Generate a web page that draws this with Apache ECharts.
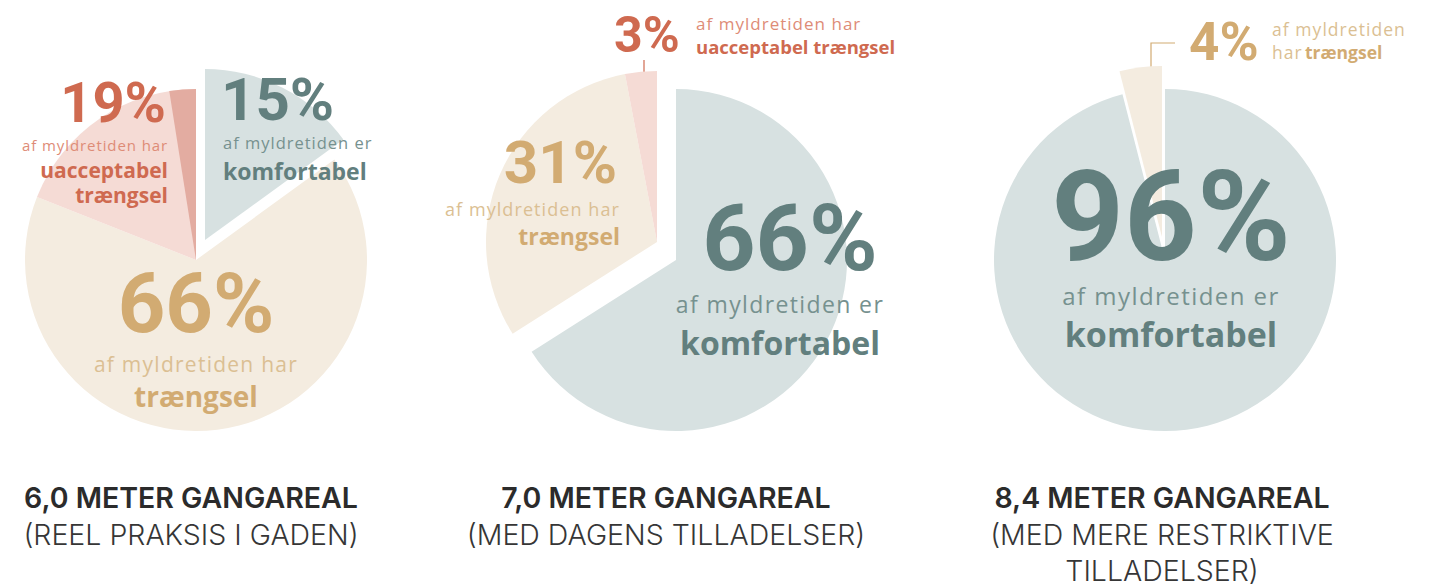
<!DOCTYPE html>
<html>
<head>
<meta charset="utf-8">
<script src="https://cdn.jsdelivr.net/npm/echarts@6/dist/echarts.min.js"></script>
<style>
  html, body { margin: 0; padding: 0; background: #fff; }
  #grf { width: 1436px; height: 588px; }
  /* lette tekster er spaceret ud i forlaegget */
  #grf text[fill="#76918f"], #grf text[fill="#dbbf93"], #grf text[fill="#de8c77"] { letter-spacing: 0.06em; }
</style>
</head>
<body>
<div id="grf"></div>
<script>
// Data
var titler      = ['6,0 METER GANGAREAL', '7,0 METER GANGAREAL', '8,4 METER GANGAREAL'];
var undertitler = [['(REEL PRAKSIS I GADEN)'], ['(MED DAGENS TILLADELSER)'], ['(MED MERE RESTRIKTIVE', 'TILLADELSER)']];
var kategorier  = ['komfortabel', 'trængsel', 'uacceptabel trængsel'];
var komfortabel = [15, 66, 96];
var traengsel   = [66, 31, 4];
var uacceptabel = [19, 3, 0];
var moerkAndel  = [2.5, 0, 0];   // moerkere stribe sidst i den roede skive (graf 1)

// Farver
var farver   = ['#d7e1e1', '#f4ece0', '#f5dbd5'];
var moerkRod = '#e3aca1';
var teal = '#627f7e', tealLys = '#76918f';
var tan  = '#d2ab72', tanLys  = '#dbbf93';
var rod  = '#cf6a50', rodLys  = '#de8c77';
var tal  = 'Roboto', skrift = '"Open Sans"', titelSkrift = 'Inter';

// Placering
var centre   = [[196, 260], [657, 242], [1165, 260]];
var udCentre = [[205, 240], [676, 260], [1162, 237]];
var udSkive  = [0, 0, 1];
var radius   = 171;

var grafico = echarts.init(document.getElementById('grf'), null, {renderer: 'svg'});

function lavSerie(i, ud) {
	var vaerdier = [komfortabel[i], traengsel[i], uacceptabel[i]];
	var data = [];
	for (var j = 0; j < vaerdier.length; j++) {
		var synlig = (j === udSkive[i]) === ud;
		data.push({
			name: kategorier[j],
			value: vaerdier[j],
			itemStyle: { color: synlig ? farver[j] : 'transparent' }
		});
	}
	return {
		type: 'pie',
		silent: true,
		animation: false,
		center: ud ? udCentre[i] : centre[i],
		radius: radius,
		startAngle: 90,
		clockwise: true,
		avoidLabelOverlap: false,
		itemStyle: { borderWidth: 0 },
		label: { show: false },
		labelLine: { show: false },
		data: data
	};
}

function lavStribe(i) {
	var total = komfortabel[i] + traengsel[i] + uacceptabel[i];
	return {
		type: 'pie',
		silent: true,
		animation: false,
		center: centre[i],
		radius: radius,
		startAngle: 90,
		itemStyle: { borderWidth: 0 },
		label: { show: false },
		labelLine: { show: false },
		data: [
			{ value: total - moerkAndel[i], itemStyle: { color: 'transparent' } },
			{ value: moerkAndel[i], itemStyle: { color: moerkRod } }
		]
	};
}

var serier = [];
for (var i = 0; i < 3; i++) {
	serier.push(lavSerie(i, false));
	serier.push(lavSerie(i, true));
	if (moerkAndel[i] > 0) serier.push(lavStribe(i));
}

function txt(t, x, y, size, vaegt, fill, align, familie) {
	return {
		type: 'text', x: x, y: y, silent: true, z: 10,
		style: {
			text: t, fontSize: size, fontWeight: vaegt, fontFamily: familie,
			fill: fill, textAlign: align, textVerticalAlign: 'middle'
		}
	};
}

var grafik = [
	// graf 1
	txt(komfortabel[0] + '%', 221, 99, 60, 'bold', teal, 'left', tal),
	txt('af myldretiden er', 223, 142, 16.5, 'normal', tealLys, 'left', skrift),
	txt('komfortabel', 223, 171, 23, 'bold', teal, 'left', skrift),
	txt(uacceptabel[0] + '%', 166, 103, 56, 'bold', rod, 'right', tal),
	txt('af myldretiden har', 168, 145, 15, 'normal', rodLys, 'right', skrift),
	txt('uacceptabel', 168, 170, 21, 'bold', rod, 'right', skrift),
	txt('trængsel', 168, 195, 21, 'bold', rod, 'right', skrift),
	txt(traengsel[0] + '%', 196, 303, 83, 'bold', tan, 'center', tal),
	txt('af myldretiden har', 196, 364, 21, 'normal', tanLys, 'center', skrift),
	txt('trængsel', 196, 396, 28, 'bold', tan, 'center', skrift),

	// graf 2
	txt(uacceptabel[1] + '%', 614, 35, 50, 'bold', rod, 'left', tal),
	txt('af myldretiden har', 696, 23, 17, 'normal', rodLys, 'left', skrift),
	txt('uacceptabel trængsel', 696, 46, 18.5, 'bold', rod, 'left', skrift),
	{ type: 'polyline', silent: true, shape: { points: [[644, 60], [644, 87]] }, style: { stroke: rod, lineWidth: 1.2, fill: null } },
	{ type: 'circle', silent: true, shape: { cx: 644, cy: 87, r: 3.5 }, style: { fill: rod } },
	txt(traengsel[1] + '%', 617, 162, 60, 'bold', tan, 'right', tal),
	txt('af myldretiden har', 620, 209, 18, 'normal', tanLys, 'right', skrift),
	txt('trængsel', 620, 236, 23, 'bold', tan, 'right', skrift),
	txt(komfortabel[1] + '%', 790, 238, 93, 'bold', teal, 'center', tal),
	txt('af myldretiden er', 780, 304, 23, 'normal', tealLys, 'center', skrift),
	txt('komfortabel', 780, 342, 32, 'bold', teal, 'center', skrift),

	// graf 3
	txt(komfortabel[2] + '%', 1171, 216, 127, 'bold', teal, 'center', tal),
	txt('af myldretiden er', 1171, 295, 24, 'normal', tealLys, 'center', skrift),
	txt('komfortabel', 1171, 334, 34, 'bold', teal, 'center', skrift),
	txt(traengsel[2] + '%', 1189, 42, 53, 'bold', tan, 'left', tal),
	txt('af myldretiden', 1272, 29, 17.5, 'normal', tanLys, 'left', skrift),
	txt('har', 1272, 52, 17.5, 'normal', tanLys, 'left', skrift),
	txt('trængsel', 1305, 52, 17.5, 'bold', tan, 'left', skrift),
	{ type: 'polyline', silent: true, shape: { points: [[1175, 43], [1151, 43], [1151, 87]] }, style: { stroke: tan, lineWidth: 1.2, fill: null } },
	{ type: 'circle', silent: true, shape: { cx: 1151, cy: 87, r: 3.5 }, style: { fill: tan } }
];

// titler under graferne
var titelX = [191, 666, 1162];
for (var k = 0; k < 3; k++) {
	grafik.push(txt(titler[k], titelX[k], 497, 28.5, 600, '#2b2b2b', 'center', titelSkrift));
	for (var n = 0; n < undertitler[k].length; n++) {
		grafik.push(txt(undertitler[k][n], titelX[k], 534 + n * 36, 28.5, 300, '#363636', 'center', titelSkrift));
	}
}

var opcoes = {
	backgroundColor: '#ffffff',
	animation: false,
	series: serier,
	graphic: { elements: grafik }
};

grafico.setOption(opcoes);

window.addEventListener('resize', function () { grafico.resize(); });
</script>
</body>
</html>
